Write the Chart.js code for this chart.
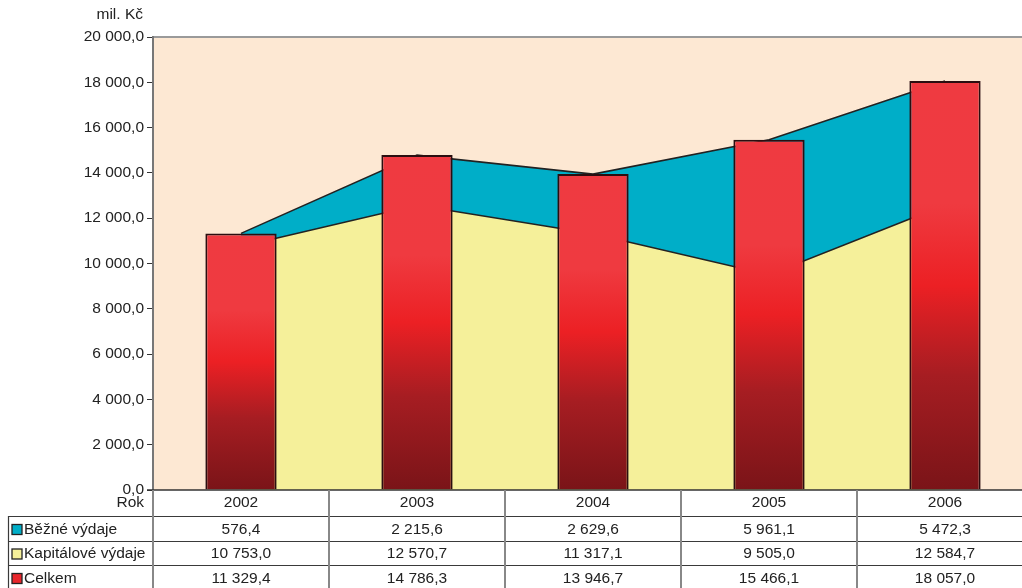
<!DOCTYPE html>
<html>
<head>
<meta charset="utf-8">
<script src="https://cdn.jsdelivr.net/npm/chart.js@4.4.1/dist/chart.umd.min.js"></script>
<style>
    html, body { margin: 0; padding: 0; background: #fff; overflow: hidden; }
    #wrap { width: 1035px; height: 588px; }
</style>
</head>
<body>
<div id="wrap"><canvas id="chart" width="1035" height="588"></canvas></div>
<script>
const years = ['2002', '2003', '2004', '2005', '2006'];
const bezneVydaje = [576.4, 2215.6, 2629.6, 5961.1, 5472.3];
const kapitaloveVydaje = [10753.0, 12570.7, 11317.1, 9505.0, 12584.7];
const celkem = [11329.4, 14786.3, 13946.7, 15466.1, 18057.0];
const yTicks = [0, 2000, 4000, 6000, 8000, 10000, 12000, 14000, 16000, 18000, 20000];

const FONT = '"Liberation Sans", Arial, sans-serif';

// 12 345,6 style number
function fmt(v) {
    const parts = v.toFixed(1).split('.');
    const whole = parts[0].replace(/\B(?=(\d{3})+(?!\d))/g, ' ');
    return whole + ',' + parts[1];
}

function barGradient(context) {
    const chart = context.chart;
    const { ctx, chartArea, scales } = chart;
    if (!chartArea || !scales.y) return '#e8343a';
    const top = scales.y.getPixelForValue(context.raw);
    const bottom = scales.y.getPixelForValue(0);
    const g = ctx.createLinearGradient(0, top, 0, bottom);
    g.addColorStop(0, '#ef3a41');
    g.addColorStop(0.3, '#ef3a40');
    g.addColorStop(0.5, '#ec2024');
    g.addColorStop(0.72, '#a61d22');
    g.addColorStop(1, '#7a1418');
    return g;
}

const backgroundPlugin = {
    id: 'plotBackground',
    beforeDraw(chart) {
        const { ctx, chartArea } = chart;
        ctx.save();
        ctx.fillStyle = '#fde8d3';
        ctx.fillRect(chartArea.left, chartArea.top, chartArea.right - chartArea.left, chartArea.bottom - chartArea.top);
        // top border
        ctx.strokeStyle = '#9a9a9a';
        ctx.lineWidth = 2;
        ctx.beginPath();
        ctx.moveTo(chartArea.left, chartArea.top);
        ctx.lineTo(chartArea.right, chartArea.top);
        ctx.stroke();
        ctx.restore();
    }
};

const tablePlugin = {
    id: 'dataTable',
    afterDraw(chart) {
        const { ctx, chartArea, scales } = chart;
        const x = scales.x;
        const left = chartArea.left;
        const right = chart.width;
        const top = chartArea.bottom;
        const rowY = [top, 516, 541, 565, 590];
        const colW = (chartArea.right - chartArea.left) / years.length;

        ctx.save();
        // axis line at zero
        ctx.strokeStyle = '#333';
        ctx.lineWidth = 1.5;
        ctx.beginPath();
        ctx.moveTo(left - 6, top);
        ctx.lineTo(right, top);
        ctx.stroke();

        // horizontal row lines
        ctx.lineWidth = 1.2;
        ctx.strokeStyle = '#3a3a3a';
        for (let i = 1; i < 4; i++) {
            ctx.beginPath();
            ctx.moveTo(8, rowY[i] + 0.5);
            ctx.lineTo(right, rowY[i] + 0.5);
            ctx.stroke();
        }
        // left border of the legend column
        ctx.beginPath();
        ctx.moveTo(8.5, rowY[1]);
        ctx.lineTo(8.5, 588);
        ctx.stroke();

        // vertical column lines
        ctx.strokeStyle = '#888';
        ctx.lineWidth = 2;
        for (let i = 0; i < years.length; i++) {
            const cx = left + i * colW;
            ctx.beginPath();
            ctx.moveTo(cx, top);
            ctx.lineTo(cx, 588);
            ctx.stroke();
        }

        ctx.fillStyle = '#222';
        ctx.font = '15.5px ' + FONT;
        ctx.textBaseline = 'middle';

        // header row
        ctx.textAlign = 'right';
        ctx.fillText('Rok', 144, 503);
        ctx.textAlign = 'center';
        years.forEach((yr, i) => ctx.fillText(yr, x.getPixelForValue(i), 503));

        const rows = [
            { label: 'Běžné výdaje', color: '#00aec8', values: bezneVydaje },
            { label: 'Kapitálové výdaje', color: '#f5f09a', values: kapitaloveVydaje },
            { label: 'Celkem', color: '#e8262c', values: celkem }
        ];
        rows.forEach((row, r) => {
            const cy = (rowY[r + 1] + rowY[r + 2]) / 2 + 1;
            ctx.fillStyle = row.color;
            ctx.fillRect(12, cy - 5, 10, 10);
            ctx.strokeStyle = '#222';
            ctx.lineWidth = 1.3;
            ctx.strokeRect(12, cy - 5, 10, 10);
            ctx.fillStyle = '#222';
            ctx.textAlign = 'left';
            ctx.fillText(row.label, 24, cy);
            ctx.textAlign = 'center';
            row.values.forEach((v, i) => ctx.fillText(fmt(v), x.getPixelForValue(i), cy));
        });

        // unit label
        ctx.textAlign = 'right';
        ctx.fillText('mil. Kč', 143, 15);
        ctx.restore();
    }
};

new Chart(document.getElementById('chart'), {
    data: {
        labels: years,
        datasets: [
            {
                type: 'bar',
                label: 'Celkem',
                data: celkem,
                backgroundColor: barGradient,
                borderColor: '#2b0e10',
                borderWidth: 2,
                barPercentage: 1,
                categoryPercentage: 0.405,
                order: 0
            },
            {
                type: 'line',
                label: 'Kapitálové výdaje',
                data: kapitaloveVydaje,
                backgroundColor: '#f5f09a',
                borderColor: '#222',
                borderWidth: 1.6,
                pointRadius: 0,
                tension: 0,
                fill: 'origin',
                stack: 'area',
                order: 1
            },
            {
                type: 'line',
                label: 'Běžné výdaje',
                data: bezneVydaje,
                backgroundColor: '#00aec8',
                borderColor: '#222',
                borderWidth: 1.6,
                pointRadius: 0,
                tension: 0,
                fill: '-1',
                stack: 'area',
                order: 2
            }
        ]
    },
    options: {
        responsive: false,
        devicePixelRatio: 1,
        animation: false,
        layout: {
            padding: { left: 0, right: 2, top: 37, bottom: 98 }
        },
        plugins: {
            legend: { display: false },
            tooltip: { enabled: false }
        },
        scales: {
            x: {
                type: 'category',
                display: false,
                offset: true
            },
            y: {
                min: 0,
                max: 20000,
                stacked: true,
                afterFit: (scale) => { scale.width = 153; },
                afterBuildTicks: (scale) => { scale.ticks = yTicks.map(v => ({ value: v })); },
                border: { display: true, color: '#777', width: 2 },
                grid: { drawOnChartArea: false, drawTicks: true, tickLength: 6, color: '#333' },
                ticks: {
                    color: '#222',
                    padding: 3,
                    font: { family: FONT, size: 15.5 },
                    callback: (v) => fmt(v)
                }
            }
        }
    },
    plugins: [backgroundPlugin, tablePlugin]
});
</script>
</body>
</html>
